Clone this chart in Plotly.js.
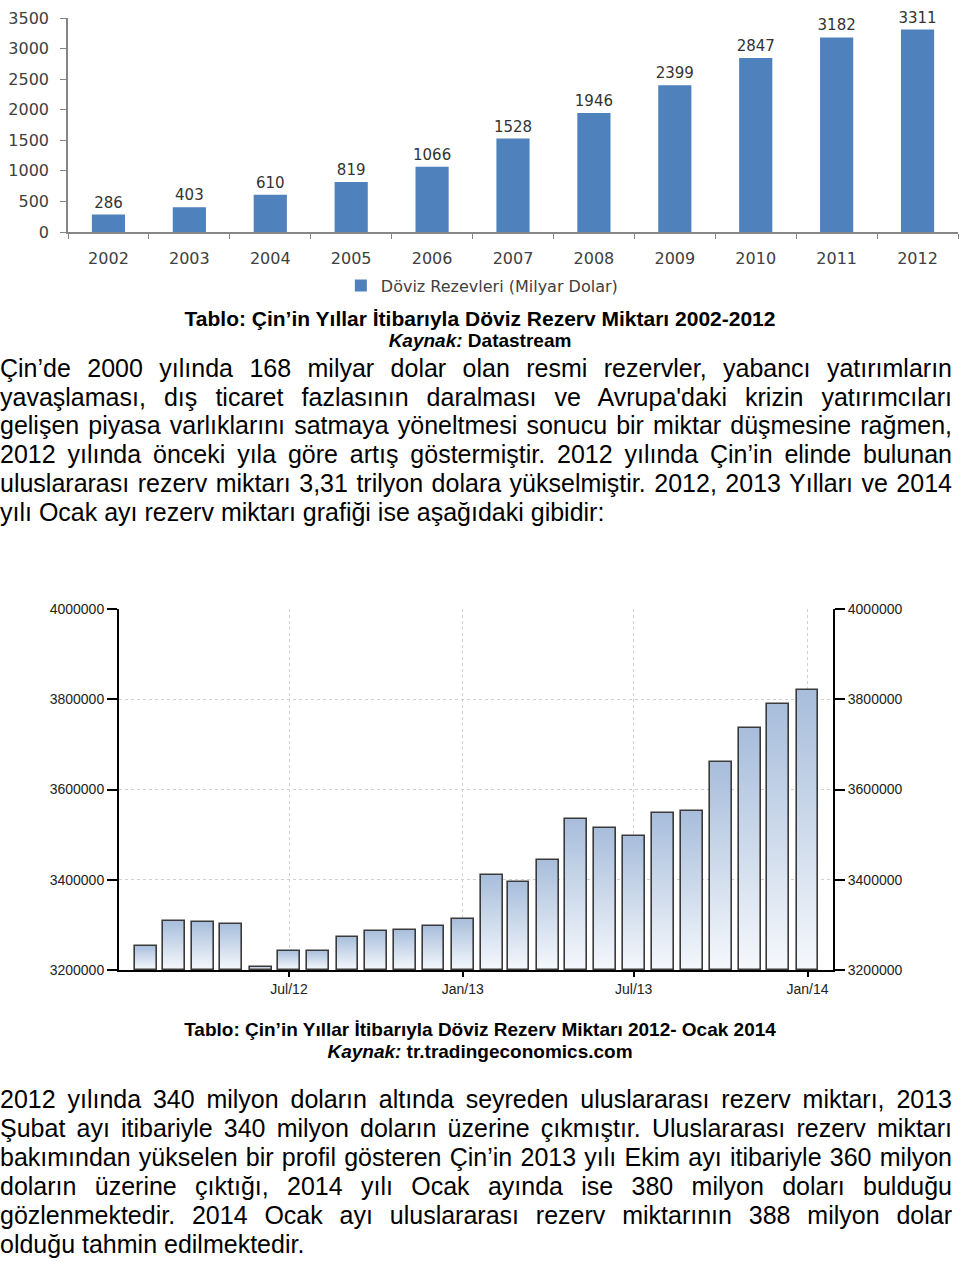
<!DOCTYPE html>
<html>
<head>
<meta charset="utf-8">
<script src="https://cdn.plot.ly/plotly-3.0.1.min.js"></script>
<style>
  html, body { margin:0; padding:0; background:#fff; }
  body { width:960px; height:1261px; position:relative; overflow:hidden; }
  #chart1 { position:absolute; left:0; top:0; width:960px; height:305px; }
  #chart2 { position:absolute; left:0; top:560px; width:960px; height:450px; }
  #chart2 .barlayer .point path { fill:url(#barGrad) !important; }
  .cap { position:absolute; left:0; width:960px; text-align:center; font-family:"Liberation Sans", Arial, sans-serif; font-weight:bold; font-size:19px; line-height:22px; color:#000; }
  .para { position:absolute; left:0; width:952px; font-family:"Liberation Sans", Arial, sans-serif; font-size:25px; line-height:28.7px; color:#000; }
  .jl { text-align:justify; text-align-last:justify; white-space:nowrap; }
  .ll { text-align:left; white-space:nowrap; }
</style>
</head>
<body>
<svg width="1" height="1" style="position:absolute;left:0;top:0;">
  <defs>
    <linearGradient id="barGrad" x1="0" y1="0" x2="0" y2="1">
      <stop offset="0%" stop-color="#a7bddb"/>
      <stop offset="100%" stop-color="#f5f8fc"/>
    </linearGradient>
  </defs>
</svg>
<div id="chart1"></div>
<div class="cap" style="top:308px; font-size:21px;">Tablo: Çin’in Yıllar İtibarıyla Döviz Rezerv Miktarı 2002-2012</div>
<div class="cap" style="top:330px;"><i>Kaynak:</i> Datastream</div>
<div class="para" style="top:354px;">
  <div class="jl">Çin’de 2000 yılında 168 milyar dolar olan resmi rezervler, yabancı yatırımların</div>
  <div class="jl">yavaşlaması, dış ticaret fazlasının daralması ve Avrupa'daki krizin yatırımcıları</div>
  <div class="jl">gelişen piyasa varlıklarını satmaya yöneltmesi sonucu bir miktar düşmesine rağmen,</div>
  <div class="jl">2012 yılında önceki yıla göre artış göstermiştir. 2012 yılında Çin’in elinde bulunan</div>
  <div class="jl">uluslararası rezerv miktarı 3,31 trilyon dolara yükselmiştir. 2012, 2013 Yılları ve 2014</div>
  <div class="ll">yılı Ocak ayı rezerv miktarı grafiği ise aşağıdaki gibidir:</div>
</div>
<div id="chart2"></div>
<div class="cap" style="top:1019px;">Tablo: Çin’in Yıllar İtibarıyla Döviz Rezerv Miktarı 2012- Ocak 2014</div>
<div class="cap" style="top:1041px;"><i>Kaynak:</i> tr.tradingeconomics.com</div>
<div class="para" style="top:1085px; line-height:29px;">
  <div class="jl">2012 yılında 340 milyon doların altında seyreden uluslararası rezerv miktarı, 2013</div>
  <div class="jl">Şubat ayı itibariyle 340 milyon doların üzerine çıkmıştır. Uluslararası rezerv miktarı</div>
  <div class="jl">bakımından yükselen bir profil gösteren Çin’in 2013 yılı Ekim ayı itibariyle 360 milyon</div>
  <div class="jl">doların üzerine çıktığı, 2014 yılı Ocak ayında ise 380 milyon doları bulduğu</div>
  <div class="jl">gözlenmektedir. 2014 Ocak ayı uluslararası rezerv miktarının 388 milyon dolar</div>
  <div class="ll">olduğu tahmin edilmektedir.</div>
</div>
<script>
// ---- Chart 1 data ----
const years = ['2002','2003','2004','2005','2006','2007','2008','2009','2010','2011','2012'];
const reserves = [286, 403, 610, 819, 1066, 1528, 1946, 2399, 2847, 3182, 3311];
const seriesName1 = 'Döviz Rezevleri (Milyar Dolar)';
const yTicks1 = [0, 500, 1000, 1500, 2000, 2500, 3000, 3500];

// ---- Chart 2 data ----
const months = ['2012-02-01','2012-03-01','2012-04-01','2012-05-01','2012-06-01','2012-07-01',
                '2012-08-01','2012-09-01','2012-10-01','2012-11-01','2012-12-01','2013-01-01',
                '2013-02-01','2013-03-01','2013-04-01','2013-05-01','2013-06-01','2013-07-01',
                '2013-08-01','2013-09-01','2013-10-01','2013-11-01','2013-12-01','2014-01-01'];
const monthly = [3253000, 3309000, 3307000, 3301000, 3206000, 3242000,
                 3242000, 3274000, 3286000, 3288000, 3297000, 3313000,
                 3410000, 3395000, 3443000, 3534000, 3514000, 3496000,
                 3547000, 3552000, 3662000, 3737000, 3790000, 3820000];
const xTickVals2 = ['2012-07-01','2013-01-01','2013-07-01','2014-01-01'];
const xTickText2 = ['Jul/12','Jan/13','Jul/13','Jan/14'];
const yTicks2 = [3200000, 3400000, 3600000, 3800000, 4000000];

const fam1 = 'DejaVu Sans, Verdana, sans-serif';
const font1 = {family:fam1, size:16, color:'#404040'};
const cfg = {displayModeBar:false};

Plotly.newPlot('chart1', [{
  type:'bar', x:years, y:reserves, name:seriesName1,
  marker:{color:'#4f81bd'}, width:0.41,
  text:reserves.map(String), textposition:'outside', cliponaxis:false, constraintext:'none',
  textfont:{family:fam1, size:15, color:'#333'},
  showlegend:true, hoverinfo:'skip'
}], {
  width:960, height:305,
  margin:{l:68, r:2, t:18, b:67},
  paper_bgcolor:'#fff', plot_bgcolor:'#fff',
  font:font1,
  showlegend:true,
  legend:{orientation:'h', x:0.465, xanchor:'center', y:-0.25, yanchor:'middle',
          font:{family:fam1, size:16, color:'#404040'}},
  xaxis:{type:'category', showline:true, linecolor:'#868686', linewidth:1.5,
         ticks:'outside', tickson:'boundaries', ticklen:5, tickcolor:'#868686',
         showgrid:false, tickfont:font1, ticklabelstandoff:11, fixedrange:true},
  yaxis:{range:[0,3500], tickvals:yTicks1, showline:true, linecolor:'#868686', linewidth:1.5,
         ticks:'outside', ticklen:6, tickcolor:'#868686', showgrid:false, zeroline:false,
         tickfont:font1, ticklabelstandoff:8, fixedrange:true}
}, cfg);

const font2 = {family:'Liberation Sans, Arial, sans-serif', size:14, color:'#222'};
const yBase2 = yTicks2[0];
const yax2 = {range:[yTicks2[0], yTicks2[yTicks2.length-1]], tickvals:yTicks2, tickformat:'d',
  showline:true, linecolor:'#000', linewidth:2, ticks:'outside', ticklen:10,
  tickcolor:'#000', tickwidth:2, zeroline:false, tickfont:font2, fixedrange:true};

Plotly.newPlot('chart2', [{
  // bars start at the axis floor so each bar's own gradient spans its visible height
  type:'bar', x:months, y:monthly.map(function(v){ return v - yBase2; }), base:yBase2, width:2.0e9,
  marker:{color:'#c5d5ea', line:{color:'#3a3a3a', width:1.6}},
  showlegend:false, hoverinfo:'skip'
}, {
  type:'scatter', x:months, y:monthly, yaxis:'y2', mode:'none',
  showlegend:false, hoverinfo:'skip'
}], {
  width:960, height:450,
  margin:{l:119, r:127, t:49, b:40},
  paper_bgcolor:'#fff', plot_bgcolor:'#fff',
  bargap:0,
  xaxis:{type:'date', range:['2012-01-03','2014-01-28'], tickvals:xTickVals2, ticktext:xTickText2,
         showline:true, linecolor:'#000', linewidth:2, ticks:'outside', ticklen:5,
         tickcolor:'#000', tickwidth:1.5, showgrid:true, gridcolor:'#d0d0d0', griddash:'dot',
         gridwidth:1, tickfont:font2, fixedrange:true},
  yaxis:Object.assign({}, yax2, {showgrid:true, gridcolor:'#d0d0d0', griddash:'dot', gridwidth:1}),
  yaxis2:Object.assign({}, yax2, {overlaying:'y', side:'right', showgrid:false, anchor:'x'})
}, cfg);
</script>
</body>
</html>
